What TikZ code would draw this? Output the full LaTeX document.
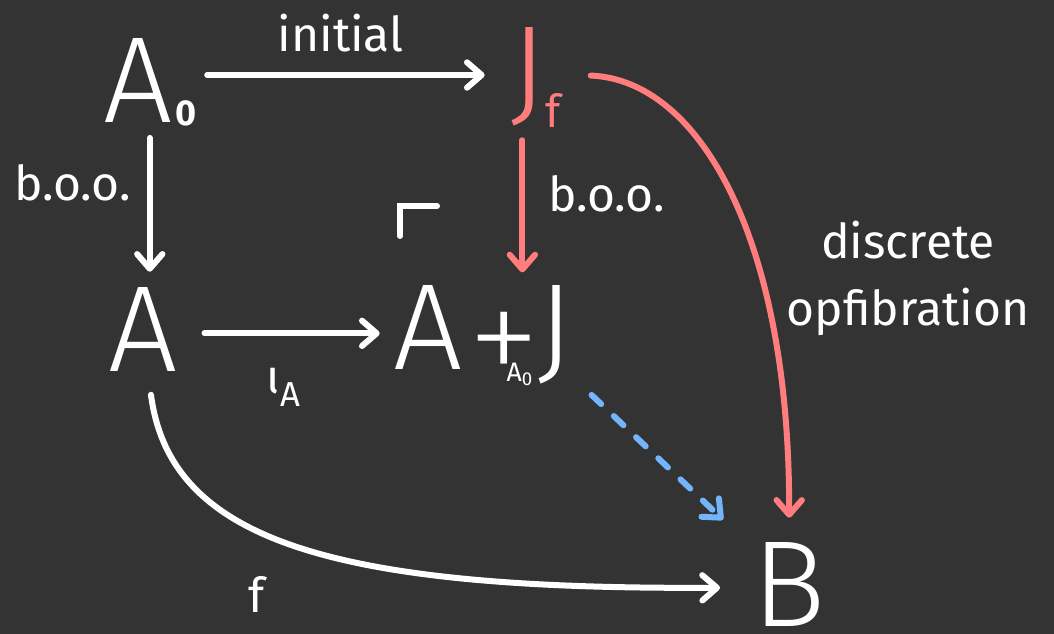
\documentclass[tikz,border=0pt]{standalone}
\usepackage{fontspec}
\setmainfont{Fira Sans}
\IfFontExistsTF{Fira Sans Light}{\newfontfamily\bigfont{Fira Sans Light}}{%
  \IfFontExistsTF{Fira Sans ExtraLight}{\newfontfamily\bigfont{Fira Sans ExtraLight}}{%
    \newfontfamily\bigfont{Fira Sans}}}
\IfFontExistsTF{Fira Sans ExtraLight}{\newfontfamily\plusfont{Fira Sans ExtraLight}}{\let\plusfont\bigfont}
\usepackage{tikz}
\usetikzlibrary{positioning,arrows.meta}
\definecolor{bg}{RGB}{51,51,51}
\definecolor{salmon}{RGB}{255,125,125}
\definecolor{sky}{RGB}{115,180,250}

\begin{document}
\begin{tikzpicture}[x=0.75pt,y=-0.75pt,>={Straight Barb[length=11pt,width=19pt,round]},
   arr/.style={->,draw=white,line width=4.5pt,line cap=round},
   obj/.style={font=\bigfont\fontsize{92}{92}\selectfont,text=white,inner sep=0pt,
     text height=60pt,text depth=2pt,anchor=base west},
   lbl/.style={font=\fontsize{36}{50}\selectfont,text=white,inner sep=0pt}]
 \fill[bg] (0,0) rectangle (1054,634);
 \useasboundingbox (0,0) rectangle (1054,634);
 \node[obj] (A0) at (103,123) {A\hspace{2pt}\raisebox{-2pt}{\normalfont\bfseries\fontsize{27}{27}\selectfont 0}};
 \node[obj,text=salmon] (Jf) at (510,112) {J\raisebox{-12pt}{\normalfont\fontsize{34}{34}\selectfont f}};
 \node[obj] (A) at (108,372) {A};
 \node[obj] (AJ) at (393,370) {A\hspace{14pt}\makebox[34pt]{\raisebox{-13pt}{\plusfont\fontsize{112}{112}\selectfont +}}\hspace{-15pt}%
   \raisebox{-9pt}{\normalfont\fontsize{20}{20}\selectfont A\raisebox{-3pt}{\fontsize{14}{14}\selectfont 0}}\hspace{4pt}J};
 \node[obj] (B) at (752,626) {B};
 \draw[arr,shorten <=8pt,shorten >=19pt] ([yshift=7pt]A0.east) -- ([yshift=7pt]A0.east -| Jf.west)
   node[lbl,pos=0.46,above=15pt] {initial};
 \draw[arr,shorten <=9pt,shorten >=15pt] (A0.south) -- (A0.south |- A.north)
   node[lbl,pos=0.34,left=12pt] {b.o.o.};
 \draw[arr,draw=salmon,shorten <=19pt,shorten >=13pt] ([xshift=-10pt]Jf.south) -- ([xshift=-10pt]Jf.south |- AJ.north)
   node[lbl,pos=0.45,right=17pt] {b.o.o.};
 \draw[arr,shorten <=20pt,shorten >=10pt] (A.east) -- (A.east -| AJ.west)
   node[lbl,pos=0.49,below=24pt] {ι\raisebox{-10pt}{\fontsize{26}{26}\selectfont A}};
 \draw[white,line width=4.5pt,line cap=round] (400,236) -- (400,206) -- (437,206);
 \draw[arr,draw=salmon,shorten <=22pt,shorten >=21pt] (Jf) .. controls (700,80) and (790,240) .. (B)
   node[lbl,pos=0.65,right=19pt,align=center] {discrete\\opfibration};
 \draw[arr,shorten <=15pt,shorten >=24pt] (A) .. controls (170,540) and (330,590) .. (B)
   node[lbl,pos=0.5,below left=22pt and 24pt] {f};
 \draw[arr,draw=sky,dash pattern=on 10pt off 13pt] ([shift={(18,22)}]AJ.south east) -- ([shift={(-29,-26)}]B.north west);
\end{tikzpicture}
\end{document}
